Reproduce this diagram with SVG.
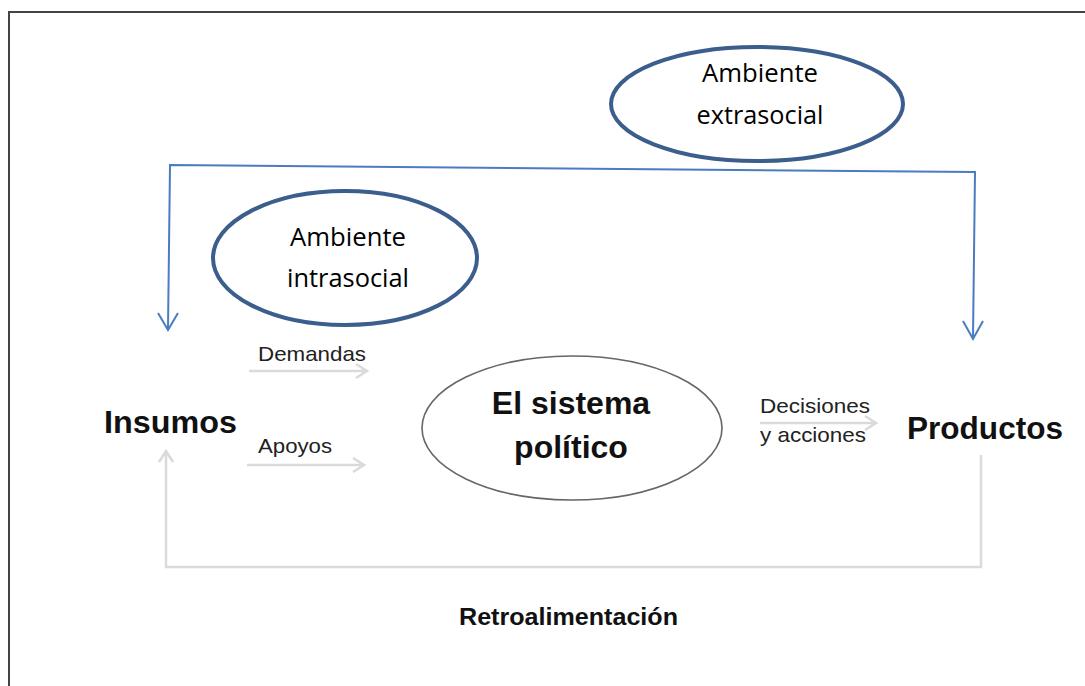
<svg xmlns="http://www.w3.org/2000/svg" width="1085" height="686" viewBox="0 0 1085 686">
<style>
.env{fill:#fff;stroke:#3B5E8C;stroke-width:4}
.envt{font-family:"Open Sans","Liberation Sans",sans-serif;font-size:25px;fill:#000;text-anchor:middle}
.blue{fill:none;stroke:#4A7CC0;stroke-width:2}
.gray{fill:none;stroke:#DADADA;stroke-width:2.5}
.lbl{font-family:"Liberation Sans",Arial,sans-serif;font-size:21px;fill:#222}
.big{font-family:"Liberation Sans",Arial,sans-serif;font-weight:bold;fill:#111}
</style>
<rect x="9" y="12" width="1100" height="700" fill="#fff" stroke="#444" stroke-width="2"/>
<g id="connectors">
<path class="blue" d="M168,329 L170,165 L975,172 L973,338"/>
<path class="blue" d="M158,313 L168,330 L178,313"/>
<path class="blue" d="M963,321 L973,339 L983,321"/>
<path class="gray" d="M249,371 L366,371 M356,364 L367,371 L356,378"/>
<path class="gray" d="M247,465 L363,465 M353,458 L364,465 L353,472"/>
<path class="gray" d="M760,423 L875,423 M865,416 L876,423 L865,430"/>
<path class="gray" d="M981,455 L981,567 L166,567 L166,452 M159,462 L166,451 L173,462"/>
</g>
<g id="extrasocial">
<ellipse class="env" cx="757" cy="104" rx="146" ry="57"/>
<text class="envt" x="760" y="82" textLength="116" lengthAdjust="spacingAndGlyphs">Ambiente</text>
<text class="envt" x="760" y="124" textLength="127" lengthAdjust="spacingAndGlyphs">extrasocial</text>
</g>
<g id="intrasocial">
<ellipse class="env" cx="345" cy="258" rx="132" ry="67"/>
<text class="envt" x="348" y="246" textLength="116" lengthAdjust="spacingAndGlyphs">Ambiente</text>
<text class="envt" x="348" y="287" textLength="122" lengthAdjust="spacingAndGlyphs">intrasocial</text>
</g>
<g id="sistema">
<ellipse cx="572" cy="428" rx="150" ry="72" fill="#fff" stroke="#666" stroke-width="1.6"/>
<text class="big" x="571" y="414" font-size="32" text-anchor="middle">El sistema</text>
<text class="big" x="571" y="458" font-size="32" text-anchor="middle">político</text>
</g>
<g id="insumos">
<text class="big" x="104" y="433" font-size="31" textLength="133" lengthAdjust="spacingAndGlyphs">Insumos</text>
</g>
<g id="productos">
<text class="big" x="907" y="439" font-size="31" textLength="156" lengthAdjust="spacingAndGlyphs">Productos</text>
</g>
<g id="labels">
<text class="lbl" x="258" y="361" textLength="108" lengthAdjust="spacingAndGlyphs">Demandas</text>
<text class="lbl" x="258" y="453" textLength="74" lengthAdjust="spacingAndGlyphs">Apoyos</text>
<text class="lbl" x="760" y="413" textLength="110" lengthAdjust="spacingAndGlyphs">Decisiones</text>
<text class="lbl" x="760" y="442" textLength="106" lengthAdjust="spacingAndGlyphs">y acciones</text>
<text class="big" x="459" y="625" font-size="24" textLength="219" lengthAdjust="spacingAndGlyphs">Retroalimentación</text>
</g>
</svg>
